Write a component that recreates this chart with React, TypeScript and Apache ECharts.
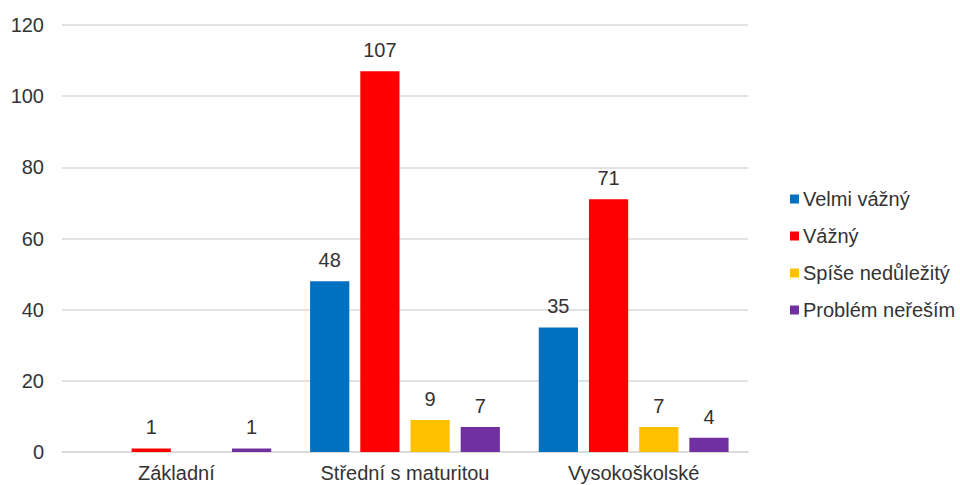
import React, { useEffect, useRef } from "react";
import * as echarts from "echarts";

const categories = ["Základní", "Střední s maturitou", "Vysokoškolské"];
const seriesNames = ["Velmi vážný", "Vážný", "Spíše nedůležitý", "Problém neřeším"];
const velmiVazny = [0, 48, 35];
const vazny = [1, 107, 71];
const spiseNedulezity = [0, 9, 7];
const problemNeresim = [1, 7, 4];
const colors = ["#0070C0", "#FF0000", "#FFC000", "#7030A0"];
const yTicks = { min: 0, max: 120, interval: 20 };

export default function App() {
  const ref = useRef<HTMLDivElement>(null);
  useEffect(() => {
    if (!ref.current) return;
    const chart = echarts.init(ref.current, null, { renderer: "svg" });
    const allData = [velmiVazny, vazny, spiseNedulezity, problemNeresim];
    const font = "Liberation Sans, Arial, sans-serif";
    const txt = "#333333";
    chart.setOption({
      animation: false,
      textStyle: { fontFamily: font },
      grid: { left: 62, right: 212, top: 25, bottom: 33, containLabel: false },
      legend: {
        orient: "vertical",
        left: 785,
        top: 184,
        itemWidth: 9,
        itemHeight: 9,
        itemGap: 17,
        icon: "rect",
        textStyle: { fontSize: 20, color: txt, fontFamily: font, padding: [0, 0, 0, -1] },
        data: seriesNames,
      },
      xAxis: {
        type: "category",
        data: categories,
        axisLine: { lineStyle: { color: "#D9D9D9", width: 1.5 } },
        axisTick: { show: false },
        axisLabel: { fontSize: 20, color: txt, margin: 11, fontFamily: font },
      },
      yAxis: {
        type: "value",
        min: yTicks.min,
        max: yTicks.max,
        interval: yTicks.interval,
        axisLine: { show: false },
        axisTick: { show: false },
        axisLabel: { fontSize: 20, color: txt, margin: 18, fontFamily: font },
        splitLine: { lineStyle: { color: "#D9D9D9", width: 1.5 } },
      },
      series: seriesNames.map((name, i) => ({
        name,
        type: "bar",
        data: allData[i],
        barGap: "28%",
        barCategoryGap: "17%",
        itemStyle: { color: colors[i] },
        label: {
          show: true,
          position: "top",
          distance: 11,
          fontSize: 20,
          color: txt,
          fontFamily: font,
          formatter: (p: any) => (p.value === 0 ? "" : String(p.value)),
        },
      })),
    });
    return () => chart.dispose();
  }, []);
  return <div ref={ref} style={{ width: 960, height: 485, position: "absolute", left: 0, top: 0 }} />;
}
